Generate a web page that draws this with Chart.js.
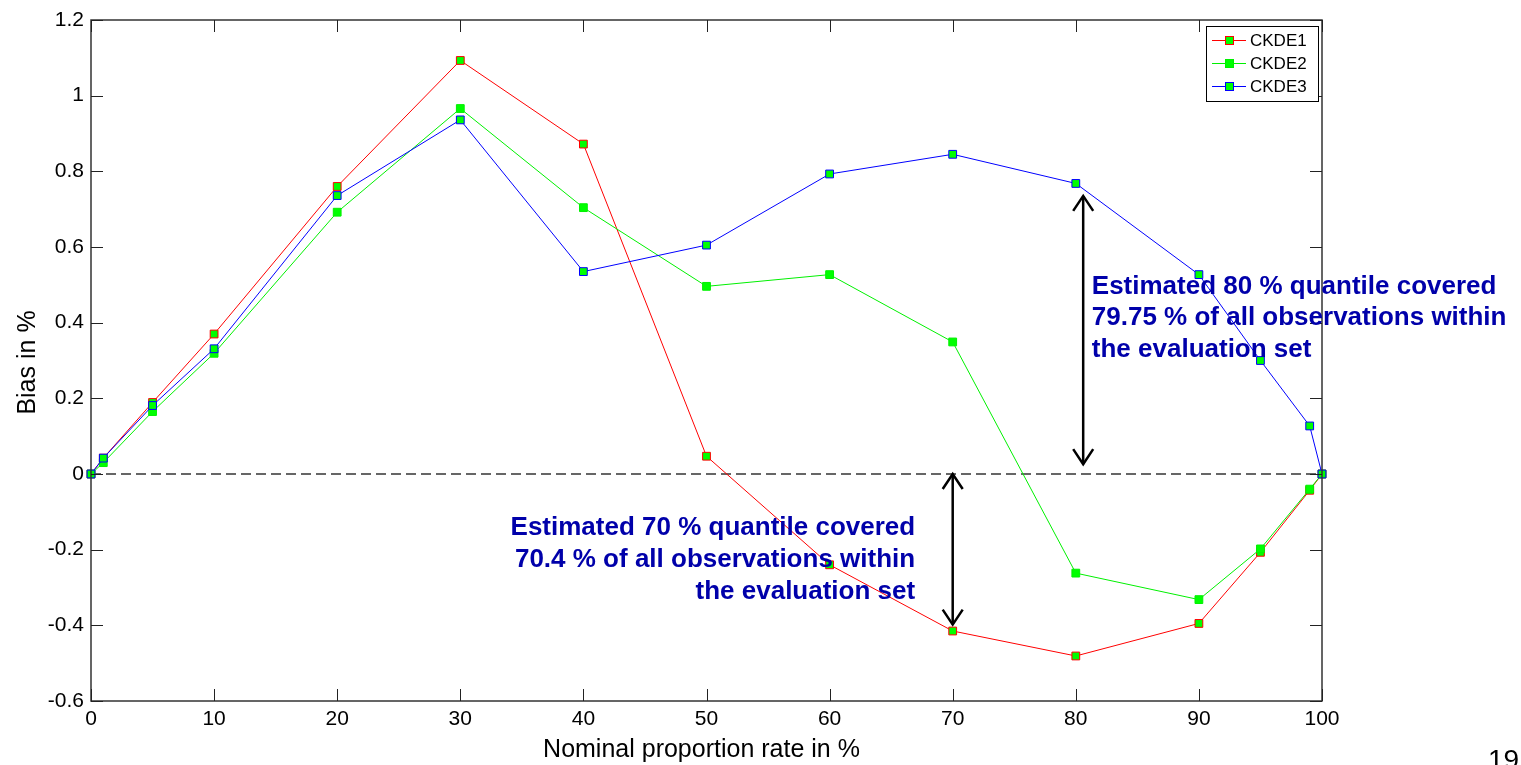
<!DOCTYPE html>
<html>
<head>
<meta charset="utf-8">
<script src="https://cdn.jsdelivr.net/npm/chart.js@4/dist/chart.umd.min.js"></script>
<style>
  html, body { margin: 0; padding: 0; background: #fff; overflow: hidden; }
</style>
</head>
<body>
<canvas id="chart" width="1521" height="765"></canvas>
<script>
// nominal proportion rate (x) and bias values
const nominal = [0, 1, 5, 10, 20, 30, 40, 50, 60, 70, 80, 90, 95, 99, 100];
const ckde1 = [0, 0.042, 0.189, 0.370, 0.760, 1.093, 0.872, 0.047, -0.240, -0.415, -0.481, -0.395, -0.207, -0.043, 0];
const ckde2 = [0, 0.030, 0.165, 0.319, 0.692, 0.966, 0.704, 0.496, 0.527, 0.349, -0.262, -0.332, -0.198, -0.040, 0];
const ckde3 = [0, 0.042, 0.181, 0.331, 0.736, 0.936, 0.535, 0.605, 0.793, 0.845, 0.768, 0.527, 0.300, 0.127, 0];

const seriesNames = ['CKDE1', 'CKDE2', 'CKDE3'];
const seriesColors = ['#ff0000', '#00f000', '#0000ff'];
const markerFill = '#00ff00';

const xTicks = [0, 10, 20, 30, 40, 50, 60, 70, 80, 90, 100];
const yTicks = [-0.6, -0.4, -0.2, 0, 0.2, 0.4, 0.6, 0.8, 1, 1.2];

const xTitle = 'Nominal proportion rate in %';
const yTitle = 'Bias in %';

// arrows: [x, from y, to y]
const arrow80 = [80.6, 0.735, 0.026];
const arrow70 = [70.0, 0.0, -0.398];
const note80 = ['Estimated 80 % quantile covered', '79.75 % of all observations within', 'the evaluation set'];
const note70 = ['Estimated 70 % quantile covered', '70.4 % of all observations within', 'the evaluation set'];
const pageNumber = '19';

const FONT = "'Liberation Sans', Arial, Helvetica, sans-serif";

function toPoints(ys) {
  return nominal.map((x, i) => ({ x: x, y: ys[i] }));
}

function arrowHead(ctx, x, y, dir) {
  ctx.beginPath();
  ctx.moveTo(x - 10, y - dir * 15);
  ctx.lineTo(x, y);
  ctx.lineTo(x + 10, y - dir * 15);
  ctx.stroke();
}

function drawArrow(ctx, sx, sy, a) {
  const x = sx.getPixelForValue(a[0]);
  const y1 = sy.getPixelForValue(a[1]);
  const y2 = sy.getPixelForValue(a[2]);
  ctx.beginPath();
  ctx.moveTo(x, y1);
  ctx.lineTo(x, y2);
  ctx.stroke();
  arrowHead(ctx, x, y1, -1);
  arrowHead(ctx, x, y2, 1);
}

const matlabLook = {
  id: 'matlabLook',
  beforeDatasetsDraw(chart) {
    const { ctx, chartArea: a, scales: { y } } = chart;
    const y0 = Math.round(y.getPixelForValue(0));
    ctx.save();
    ctx.strokeStyle = '#666';
    ctx.lineWidth = 2;
    ctx.setLineDash([10, 5]);
    ctx.beginPath();
    ctx.moveTo(a.left, y0);
    ctx.lineTo(a.right, y0);
    ctx.stroke();
    ctx.restore();
  },
  afterDraw(chart) {
    const { ctx, chartArea: a, scales: { x, y } } = chart;
    ctx.save();

    // box and inward ticks
    ctx.strokeStyle = '#333';
    ctx.lineWidth = 1.5;
    ctx.strokeRect(a.left, a.top, a.right - a.left, a.bottom - a.top);
    ctx.lineWidth = 1;
    ctx.strokeStyle = '#222';
    ctx.beginPath();
    xTicks.forEach(v => {
      const px = Math.round(x.getPixelForValue(v)) + 0.5;
      ctx.moveTo(px, a.bottom); ctx.lineTo(px, a.bottom - 12);
      ctx.moveTo(px, a.top); ctx.lineTo(px, a.top + 12);
    });
    yTicks.forEach(v => {
      const py = Math.round(y.getPixelForValue(v)) + 0.5;
      ctx.moveTo(a.left, py); ctx.lineTo(a.left + 12, py);
      ctx.moveTo(a.right, py); ctx.lineTo(a.right - 12, py);
    });
    ctx.stroke();

    // axis titles
    ctx.fillStyle = '#000';
    ctx.font = '25px ' + FONT;
    ctx.textAlign = 'center';
    ctx.textBaseline = 'alphabetic';
    ctx.fillText(xTitle, (a.left + a.right) / 2 - 5, 757);
    ctx.save();
    ctx.translate(28, (a.top + a.bottom) / 2 + 2);
    ctx.rotate(-Math.PI / 2);
    ctx.textBaseline = 'middle';
    ctx.fillText(yTitle, 0, 0);
    ctx.restore();

    // legend
    const lw = 112, lh = 75;
    const lx = a.right - 116, ly = a.top + 6;
    ctx.fillStyle = '#fff';
    ctx.fillRect(lx, ly, lw, lh);
    ctx.strokeStyle = '#000';
    ctx.lineWidth = 1;
    ctx.strokeRect(lx + 0.5, ly + 0.5, lw, lh);
    ctx.font = '17px ' + FONT;
    ctx.textAlign = 'left';
    ctx.textBaseline = 'middle';
    seriesNames.forEach((name, i) => {
      const ey = ly + 14 + i * 23;
      ctx.strokeStyle = seriesColors[i];
      ctx.beginPath();
      ctx.moveTo(lx + 6, ey + 0.5); ctx.lineTo(lx + 40, ey + 0.5);
      ctx.stroke();
      ctx.fillStyle = markerFill;
      ctx.fillRect(lx + 20, ey - 3, 7, 7);
      ctx.strokeRect(lx + 19.5, ey - 3.5, 8, 8);
      ctx.fillStyle = '#000';
      ctx.fillText(name, lx + 44, ey + 1);
    });

    // arrows
    ctx.strokeStyle = '#000';
    ctx.lineWidth = 2.5;
    drawArrow(ctx, x, y, arrow80);
    drawArrow(ctx, x, y, arrow70);

    // notes
    ctx.fillStyle = '#0000aa';
    ctx.font = 'bold 26px ' + FONT;
    ctx.textBaseline = 'middle';
    ctx.textAlign = 'left';
    const n80x = x.getPixelForValue(81.3), n80y = y.getPixelForValue(0.495);
    note80.forEach((t, i) => ctx.fillText(t, n80x, n80y + i * 31.5));
    ctx.textAlign = 'right';
    const n70x = x.getPixelForValue(66.95), n70y = y.getPixelForValue(-0.142);
    note70.forEach((t, i) => ctx.fillText(t, n70x, n70y + i * 32));

    // slide page number
    ctx.fillStyle = '#000';
    ctx.font = '28px ' + FONT;
    ctx.textAlign = 'left';
    ctx.textBaseline = 'alphabetic';
    ctx.fillText(pageNumber, 1488, 769);

    ctx.restore();
  }
};

const datasets = [ckde1, ckde2, ckde3].map((ys, i) => ({
  label: seriesNames[i],
  data: toPoints(ys),
  borderColor: seriesColors[i],
  borderWidth: 1,
  pointStyle: 'rect',
  pointRadius: 5.5,
  pointBorderWidth: 1,
  pointBackgroundColor: markerFill,
  pointBorderColor: seriesColors[i],
  tension: 0,
  fill: false,
  clip: false,
  order: 3 - i
}));

new Chart(document.getElementById('chart').getContext('2d'), {
  type: 'line',
  data: { datasets: datasets },
  options: {
    responsive: false,
    animation: false,
    devicePixelRatio: 1,
    layout: { padding: { top: 20, right: 199, left: 0, bottom: 0 } },
    plugins: { legend: { display: false }, tooltip: { enabled: false } },
    scales: {
      x: {
        type: 'linear',
        min: 0,
        max: 100,
        afterBuildTicks: s => { s.ticks = xTicks.map(v => ({ value: v })); },
        afterFit: s => { s.height = 64; },
        grid: { display: false, drawTicks: false },
        border: { display: false },
        ticks: { padding: 6, color: '#000', maxRotation: 0, font: { family: FONT, size: 21 }, callback: v => String(v) }
      },
      y: {
        type: 'linear',
        min: -0.6,
        max: 1.2,
        afterBuildTicks: s => { s.ticks = yTicks.map(v => ({ value: v })); },
        afterFit: s => { s.width = 91; },
        grid: { display: false, drawTicks: false },
        border: { display: false },
        ticks: { padding: 7, color: '#000', font: { family: FONT, size: 21 }, callback: v => String(Math.round(v * 10) / 10) }
      }
    }
  },
  plugins: [matlabLook]
});
</script>
</body>
</html>
